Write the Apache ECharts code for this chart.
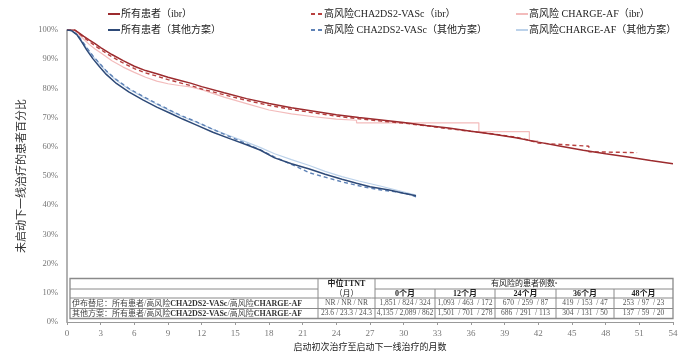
<!DOCTYPE html>
<html><head><meta charset="utf-8">
<script src="https://cdn.jsdelivr.net/npm/echarts@6/dist/echarts.min.js"></script>
<style>html,body{margin:0;padding:0;background:#fff}#c{width:686px;height:359px}</style>
</head><body><div id="c"></div>
<script>
// ---- Data ----
const seriesNames = ['所有患者（ibr）','所有患者（其他方案）','高风险CHA2DS2-VASc（ibr）','高风险 CHA2DS2-VASc（其他方案）','高风险 CHARGE-AF（ibr）','高风险CHARGE-AF（其他方案）'];

const ibrAllMonths = [0,0.7,1,1.5,2,2.5,3,4,5,6,7,8,9,10,11,12,14,16,18,20,22,24,26,28,30,32,34,36,38,40,42,44,46,48,50,52,54];
const ibrAllValues = [100,100,99.2,97.8,96.5,95.3,94,91.6,89.5,87.6,86.1,85,83.8,82.8,81.8,80.6,78.5,76.5,74.8,73.4,72.2,71,70,69.2,68.3,67.3,66.4,65.3,64.3,63.1,61.6,60.2,58.8,57.6,56.5,55.3,54.2];

const otherAllMonths = [0,0.4,0.9,1.3,1.75,2.3,2.9,3.5,4.4,5.5,6.8,8,9.2,10.3,11.5,13,14.5,16,17.2,18.5,20,21.6,23,24.5,25.8,27,28.7,30,31.1];
const otherAllValues = [100,99.8,98.3,96,93.2,90.2,87.4,84.8,81.7,78.8,76,73.6,71.5,69.5,67.5,65,62.8,60.7,58.9,56.2,54.2,52.4,50.6,48.9,47.5,46.3,45.2,44.1,43.2];

const ibrChadsMonths = [0,0.7,1,1.5,2,2.5,3,4,5,6,7,8,9,10,11,12,14,16,18,20,22,24,26,28,30,32,34,36,38,40,41,42,44,46.5,46.5,48,50.8];
const ibrChadsValues = [100,100,99,97.4,96,94.6,93.3,90.8,88.7,86.8,85.3,84.2,83,82,81,79.8,77.8,75.9,74.2,72.8,71.6,70.5,69.6,68.8,68.1,67.2,66.2,65.3,64.4,63.3,62.4,61.3,60.8,60.2,58.3,58.2,58];

const otherChadsMonths = [0,0.4,0.9,1.3,1.75,2.3,2.9,3.5,4.4,5.5,6.8,8,9.2,10.3,11.5,13,14.5,16,17.2,18.5,20,21.6,23,24.5,26.4,28,29.3,30.3,31.1];
const otherChadsValues = [100,99.8,98.5,96.5,94,91.2,88.6,86,83,80,77.2,74.8,72.5,70.5,68.6,66,63.5,61,59,56.5,54,51.1,49.6,48,46.3,45.2,44.6,43.9,42.9];

const ibrChargeMonths = [0,0.7,1,1.5,2,2.5,3,4,5,6,7,8,9,10,11,12,14,16,18,20,22,24,25.8,25.8,36.7,36.7,41.2,41.2,42];
const ibrChargeValues = [100,100,98.8,96.8,95,93.5,92.2,89.5,87.3,85.5,83.8,82.5,81.6,81,80.5,79.6,77,74.8,72.6,71.3,70.3,69.5,69.1,68.2,68.2,65.2,65.2,62,62];

const otherChargeMonths = [0,0.4,0.9,1.3,1.75,2.3,2.9,3.5,4.4,5.5,6.8,8,9.2,10.3,11.5,13,14.5,16,17.2,18.5,20,21.6,23,24.5,26,28,29.5,31.1];
const otherChargeValues = [100,99.8,98.5,96.3,93.8,91,88.4,85.8,82.8,79.8,77,74.6,72.3,70.3,68.5,66,63.8,61.6,59.8,57.6,55.6,53.6,51.6,49.8,48.3,46.5,45,43.5];

// table texts
const rowLabelIbr = '伊布替尼：';
const rowLabelOther = '其他方案：';
const medianTTNT = ['NR / NR / NR', '23.6 / 23.3 / 24.3'];
const monthHeaders = ['0个月','12个月','24个月','36个月','48个月'];
const ibrAtRisk = ['1,851 / 824 / 324','1,093  / 463  / 172','670  / 259  / 87','419  / 153  / 47','253  / 97  / 23'];
const otherAtRisk = ['4,135 / 2,089 / 862','1,501  / 701  / 278','686  / 291  / 113','304  / 131  / 50','137  / 59  / 20'];

// ---- Chart ----
const serif = "'Liberation Serif','DejaVu Serif','Noto Sans CJK SC',serif";
const pairs = (m, v) => m.map((x, i) => [x, v[i]]);

const C = {
  redSolid: '#9c2b2e', blueSolid: '#2e4a78',
  redDash: '#b8403f', blueDash: '#5e82b6',
  pink: '#f3bcbc', lightBlue: '#bcd2ea'
};

function mk(name, data, color, width, type, z) {
  return { name, type: 'line', data, symbol: 'none', showSymbol: false, z,
    lineStyle: { color, width, type }, itemStyle: { color }, animation: false };
}

const series = [
  mk(seriesNames[4], pairs(ibrChargeMonths, ibrChargeValues), C.pink, 1.2, 'solid', 1),
  mk(seriesNames[5], pairs(otherChargeMonths, otherChargeValues), C.lightBlue, 1.2, 'solid', 1),
  mk(seriesNames[2], pairs(ibrChadsMonths, ibrChadsValues), C.redDash, 1.4, [4, 3], 2),
  mk(seriesNames[3], pairs(otherChadsMonths, otherChadsValues), C.blueDash, 1.4, [4, 3], 2),
  mk(seriesNames[0], pairs(ibrAllMonths, ibrAllValues), C.redSolid, 1.5, 'solid', 3),
  mk(seriesNames[1], pairs(otherAllMonths, otherAllValues), C.blueSolid, 1.5, 'solid', 3)
];

const legendBase = { orient: 'vertical', itemWidth: 12, itemHeight: 10, itemGap: 6,
  itemStyle: { opacity: 0 },
  textStyle: { fontFamily: serif, fontSize: 10, color: '#222', padding: [0, 0, 0, -4] }, selectedMode: false };

// ---- Table graphic ----
const xs = [70, 318, 375, 435, 495, 556, 614, 673];
const ys = [278.5, 289, 298, 308.5, 318.5];
const lineColor = '#8a8a8a';
const g = [];
function hline(x1, x2, y, w) { g.push({ type: 'line', shape: { x1, y1: y, x2, y2: y }, style: { stroke: lineColor, lineWidth: w || 1 }, silent: true }); }
function vline(x, y1, y2, w) { g.push({ type: 'line', shape: { x1: x, y1, x2: x, y2 }, style: { stroke: lineColor, lineWidth: w || 1 }, silent: true }); }
function txt(x, y, text, opt) {
  g.push({ type: 'text', x, y, silent: true, style: Object.assign({ text, fontFamily: serif, fontSize: 8, fill: '#555', align: 'center', verticalAlign: 'middle' }, opt || {}) });
}
g.push({ type: 'rect', shape: { x: xs[0], y: ys[0], width: xs[7] - xs[0], height: ys[4] - ys[0] }, style: { fill: '#fff', stroke: lineColor, lineWidth: 1.3 }, silent: true });
hline(xs[0], xs[1], ys[1]); hline(xs[2], xs[7], ys[1]);
hline(xs[0], xs[7], ys[2]); hline(xs[0], xs[7], ys[3]);
vline(xs[1], ys[0], ys[4]); vline(xs[2], ys[0], ys[4]);
for (let i = 3; i < 7; i++) vline(xs[i], ys[1], ys[4]);
txt((xs[1] + xs[2]) / 2, 284, '中位TTNT', { fill: '#222', fontWeight: 'bold' });
txt((xs[1] + xs[2]) / 2, 293.5, '（月）', { fill: '#222' });
txt((xs[2] + xs[7]) / 2, 284, '有风险的患者例数{s|a}', { fill: '#222', rich: { s: { fontSize: 5, verticalAlign: 'top', fill: '#222', fontFamily: serif } } });
for (let i = 0; i < 5; i++) {
  const cx = (xs[i + 2] + xs[i + 3]) / 2;
  txt(cx, 293.5, monthHeaders[i], { fill: '#222', fontWeight: 'bold' });
  txt(cx, 303.5, ibrAtRisk[i], { fontSize: 7.5 });
  txt(cx, 313.5, otherAtRisk[i], { fontSize: 7.5 });
}
txt((xs[1] + xs[2]) / 2, 303.5, medianTTNT[0], { fontSize: 7.5 });
txt((xs[1] + xs[2]) / 2, 313.5, medianTTNT[1], { fontSize: 7.5 });
const richRow = { b: { fontWeight: 'bold', fontFamily: serif, fontSize: 8, fill: '#333' }, n: { fontFamily: serif, fontSize: 8, fill: '#444' } };
txt(72, 303.5, '{n|' + rowLabelIbr + '所有患者/高风险}{b|CHA2DS2-VASc}{n|/高风险}{b|CHARGE-AF}', { align: 'left', rich: richRow });
txt(72, 313.5, '{n|' + rowLabelOther + '所有患者/高风险}{b|CHA2DS2-VASc}{n|/高风险}{b|CHARGE-AF}', { align: 'left', rich: richRow });

const option = {
  backgroundColor: '#fff',
  animation: false,
  grid: { left: 67, right: 13, top: 30, bottom: 37, containLabel: false },
  legend: [
    Object.assign({ left: 102, top: 4, data: [seriesNames[0], seriesNames[1]] }, legendBase),
    Object.assign({ left: 305, top: 4, data: [seriesNames[2], seriesNames[3]] }, legendBase),
    Object.assign({ left: 510, top: 4, data: [seriesNames[4], seriesNames[5]] }, legendBase)
  ],
  xAxis: {
    type: 'value', min: 0, max: 54, interval: 3,
    name: '启动初次治疗至启动下一线治疗的月数', nameLocation: 'middle', nameGap: 17,
    nameTextStyle: { fontFamily: serif, fontSize: 9, color: '#222' },
    axisLine: { show: true, lineStyle: { color: '#999', width: 1 } },
    axisTick: { show: true, length: 3, lineStyle: { color: '#999' } },
    axisLabel: { fontFamily: serif, fontSize: 9, color: '#777', margin: 7 },
    splitLine: { show: false }
  },
  yAxis: {
    type: 'value', min: 0, max: 100, interval: 10,
    name: '未启动下一线治疗的患者百分比', nameLocation: 'middle', nameGap: 34, nameRotate: 90,
    nameTextStyle: { fontFamily: serif, fontSize: 11, color: '#333' },
    axisLine: { show: true, lineStyle: { color: '#999', width: 1.5 } },
    axisTick: { show: false },
    axisLabel: { fontFamily: serif, fontSize: 8.5, color: '#777', margin: 9, formatter: '{value}%' },
    splitLine: { show: false }
  },
  series,
  graphic: g
};
const chart = echarts.init(document.getElementById('c'), null, { renderer: 'canvas' });
chart.setOption(option);
</script>
</body></html>
